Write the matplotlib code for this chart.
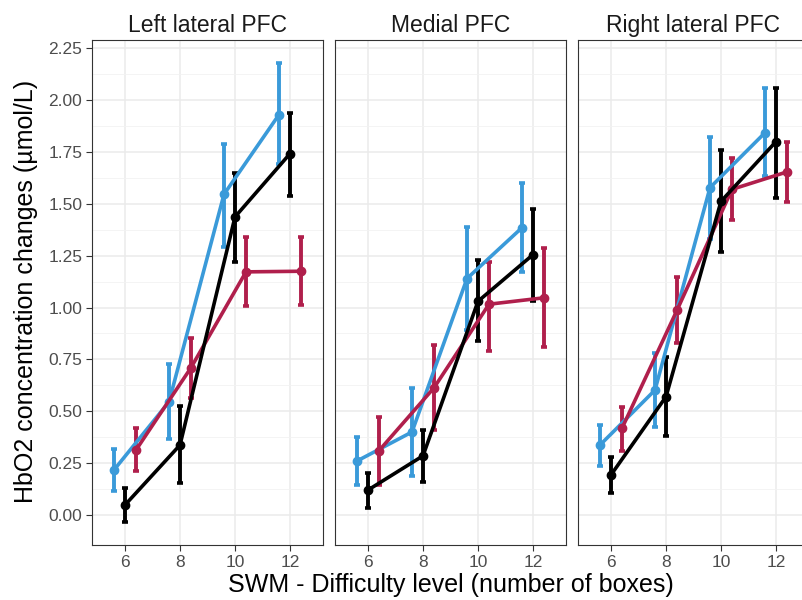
import matplotlib.pyplot as plt
import numpy as np

plt.rcParams['font.family'] = ['Liberation Sans', 'DejaVu Sans']

# Data
panels = ['Left lateral PFC', 'Medial PFC', 'Right lateral PFC']
levels = np.array([6, 8, 10, 12])
groups = ['blue', 'red', 'black']
colors = {'blue': '#3A9AD9', 'red': '#B01F4C', 'black': '#000000'}
offsets = {'blue': -0.4, 'red': 0.4, 'black': 0.0}

means = {
    'Left lateral PFC': {
        'blue': [0.217, 0.545, 1.546, 1.93],
        'black': [0.048, 0.337, 1.437, 1.742],
        'red': [0.313, 0.71, 1.172, 1.175],
    },
    'Medial PFC': {
        'blue': [0.26, 0.40, 1.14, 1.385],
        'black': [0.12, 0.285, 1.03, 1.255],
        'red': [0.31, 0.613, 1.016, 1.047],
    },
    'Right lateral PFC': {
        'blue': [0.337, 0.602, 1.578, 1.843],
        'black': [0.193, 0.57, 1.512, 1.80],
        'red': [0.418, 0.987, 1.57, 1.654],
    },
}
lower = {
    'Left lateral PFC': {
        'blue': [0.116, 0.365, 1.29, 1.69],
        'black': [-0.035, 0.153, 1.22, 1.538],
        'red': [0.213, 0.565, 1.005, 1.01],
    },
    'Medial PFC': {
        'blue': [0.145, 0.19, 0.89, 1.17],
        'black': [0.034, 0.16, 0.84, 1.03],
        'red': [0.145, 0.41, 0.79, 0.81],
    },
    'Right lateral PFC': {
        'blue': [0.237, 0.425, 1.33, 1.633],
        'black': [0.104, 0.38, 1.268, 1.53],
        'red': [0.31, 0.83, 1.424, 1.51],
    },
}
upper = {
    'Left lateral PFC': {
        'blue': [0.318, 0.726, 1.79, 2.18],
        'black': [0.129, 0.527, 1.649, 1.94],
        'red': [0.418, 0.851, 1.338, 1.338],
    },
    'Medial PFC': {
        'blue': [0.377, 0.61, 1.39, 1.60],
        'black': [0.204, 0.41, 1.228, 1.477],
        'red': [0.47, 0.82, 1.22, 1.285],
    },
    'Right lateral PFC': {
        'blue': [0.434, 0.78, 1.82, 2.06],
        'black': [0.278, 0.76, 1.758, 2.06],
        'red': [0.52, 1.148, 1.72, 1.80],
    },
}

W, H = 802, 600
fig = plt.figure(figsize=(W / 100, H / 100), dpi=100)

lefts = [92, 335, 578]
pw, top, bottom = 231, 40, 545

for i, name in enumerate(panels):
    ax = fig.add_axes([lefts[i] / W, 1 - bottom / H, pw / W, (bottom - top) / H])
    for g in groups:
        x = levels + offsets[g]
        m = np.array(means[name][g])
        lo = np.array(lower[name][g])
        hi = np.array(upper[name][g])
        ax.errorbar(x, m, yerr=[m - lo, hi - m], color=colors[g], lw=2.6,
                    elinewidth=2.8, capsize=2, capthick=2.6,
                    marker='o', markersize=6, zorder=3)
    ax.set_xlim(4.8, 13.2)
    ax.set_ylim(-0.145, 2.29)
    ax.set_xticks(levels)
    ax.set_yticks(np.arange(0, 2.26, 0.25))
    ax.set_yticks(np.arange(0.125, 2.26, 0.25), minor=True)
    ax.grid(True, which='major', color='#EBEBEB', lw=1.1, zorder=0)
    ax.grid(True, which='minor', axis='y', color='#F2F2F2', lw=0.6, zorder=0)
    ax.set_axisbelow(True)
    ax.tick_params(which='minor', length=0)
    ax.tick_params(which='major', length=4, color='#333333', labelsize=12.5,
                   labelcolor='#4D4D4D', pad=3)
    for s in ax.spines.values():
        s.set_color('#333333')
        s.set_linewidth(0.8)
    if i == 0:
        ax.set_yticklabels(['%.2f' % v for v in np.arange(0, 2.26, 0.25)])
    else:
        ax.tick_params(axis='y', left=False, labelleft=False)
    ax.set_title(name, fontsize=16.5, color='#1A1A1A', pad=6)

fig.text(450.5 / W, 1 - 585 / H, 'SWM - Difficulty level (number of boxes)',
         ha='center', va='center', fontsize=18, color='#000000')
fig.text(26 / W, 1 - 291 / H, 'HbO2 concentration changes (µmol/L)',
         ha='center', va='center', rotation=90, fontsize=18, color='#000000')

fig.savefig('out.png', dpi=100)
